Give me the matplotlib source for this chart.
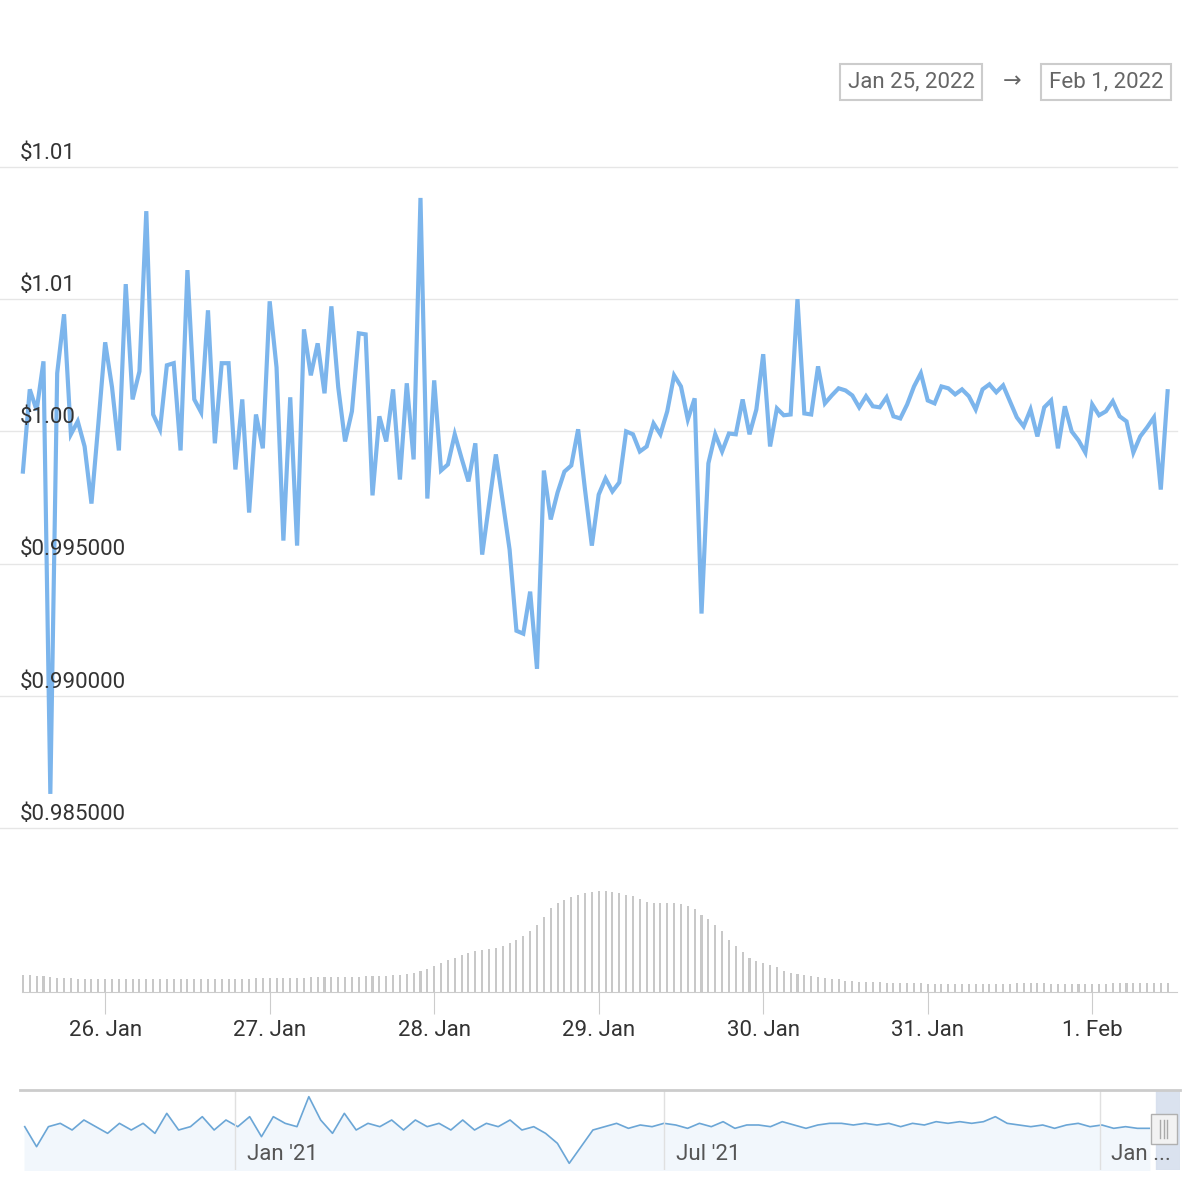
import matplotlib
matplotlib.use("Agg")
import matplotlib.pyplot as plt
from matplotlib.patches import Rectangle
import numpy as np
import pandas as pd

plt.rcParams['font.family'] = ['Roboto', 'DejaVu Sans']

# ---- data ----
start_time = "2022-01-25 12:00"
prices = [0.99848, 1.00159, 1.00080, 1.00265, 0.98629, 1.00220, 1.00443, 0.99989, 1.00038, 0.99943,
          0.99727, 1.00027, 1.00337, 1.00167, 0.99928, 1.00557, 1.00121, 1.00227, 1.00833, 1.00064,
          1.00008, 1.00250, 1.00258, 0.99928, 1.00610, 1.00121, 1.00072, 1.00458, 0.99955, 1.00258,
          1.00258, 0.99856, 1.00121, 0.99693, 1.00064, 0.99936, 1.00492, 1.00242, 0.99587, 1.00129,
          0.99568, 1.00386, 1.00212, 1.00333, 1.00144, 1.00473, 1.00167, 0.99962, 1.00076, 1.00371,
          1.00367, 0.99758, 1.00057, 0.99962, 1.00159, 0.99818, 1.00182, 0.99894, 1.00883, 0.99746,
          1.00193, 0.99852, 0.99875, 0.99989, 0.99898, 0.99811, 0.99955, 0.99534, 0.99723, 0.99913,
          0.99735, 0.99553, 0.99246, 0.99235, 0.99394, 0.99102, 0.99852, 0.99667, 0.99769, 0.99848,
          0.99871, 1.00008, 0.99780, 0.99568, 0.99761, 0.99822, 0.99773, 0.99807, 1.00000, 0.99989,
          0.99924, 0.99943, 1.00030, 0.99989, 1.00076, 1.00212, 1.00170, 1.00045, 1.00125, 0.99311,
          0.99879, 0.99989, 0.99924, 0.99992, 0.99989, 1.00121, 0.99989, 1.00083, 1.00292, 0.99943,
          1.00087, 1.00061, 1.00064, 1.00500, 1.00068, 1.00064, 1.00246, 1.00106, 1.00136, 1.00163,
          1.00155, 1.00136, 1.00091, 1.00133, 1.00095, 1.00091, 1.00129, 1.00057, 1.00049, 1.00102,
          1.00170, 1.00220, 1.00117, 1.00106, 1.00170, 1.00163, 1.00140, 1.00159, 1.00133, 1.00083,
          1.00159, 1.00178, 1.00148, 1.00174, 1.00114, 1.00053, 1.00019, 1.00083, 0.99981, 1.00091,
          1.00117, 0.99936, 1.00095, 1.00000, 0.99966, 0.99920, 1.00102, 1.00061, 1.00076, 1.00114,
          1.00057, 1.00038, 0.99920, 0.99981, 1.00015, 1.00053, 0.99780, 1.00152]

volumes = [16, 16, 15, 15, 14, 13, 13, 13, 12, 12, 12, 12, 12, 12, 12, 12, 12, 12, 12, 12,
           12, 12, 12, 12, 12, 12, 12, 12, 12, 12, 12, 12, 12, 12, 13, 13, 13, 13, 13, 13,
           13, 13, 14, 14, 14, 14, 14, 14, 14, 14, 15, 15, 15, 15, 16, 16, 17, 18, 20, 22,
           25, 28, 31, 33, 35, 37, 39, 40, 41, 42, 44, 47, 50, 54, 58, 64, 72, 80,
           85, 88, 91, 93, 95, 96, 97, 97, 96, 95, 93, 92, 89, 86, 85, 85, 85, 85, 84,
           82, 79, 74, 70, 64, 58, 50, 44, 38, 33, 30, 28, 26, 24, 20, 18, 17, 16, 15, 14,
           13, 12, 12, 11, 11, 10, 10, 10, 10, 9, 9, 9, 9, 9, 9, 8, 8, 8, 8, 8,
           8, 8, 8, 8, 8, 8, 8, 8, 9, 9, 9, 9, 9, 8, 8, 8, 8, 8, 8, 8,
           8, 8, 9, 9, 9, 9, 9, 9, 9, 9, 9]

nav_start = "2020-10-04"
nav_values = [1.0000, 0.9940, 1.0000, 1.0010, 0.9990, 1.0020, 1.0000, 0.9980, 1.0010, 0.9990,
              1.0010, 0.9980, 1.0040, 0.9990, 1.0000, 1.0030, 0.9990, 1.0020, 1.0000, 1.0030,
              0.9970, 1.0030, 1.0010, 1.0000, 1.0090, 1.0020, 0.9980, 1.0040, 0.9990, 1.0010,
              1.0000, 1.0020, 0.9990, 1.0020, 1.0000, 1.0010, 0.9990, 1.0020, 0.9990, 1.0010,
              1.0000, 1.0020, 0.9990, 1.0000, 0.9980, 0.9950, 0.9890, 0.9940, 0.9990, 1.0000,
              1.0010, 0.9995, 1.0005, 1.0000, 1.0010, 1.0005, 0.9995, 1.0010, 1.0000, 1.0015,
              0.9995, 1.0005, 1.0005, 1.0000, 1.0015, 1.0005, 0.9995, 1.0005, 1.0010, 1.0010,
              1.0005, 1.0010, 1.0005, 1.0010, 1.0000, 1.0010, 1.0005, 1.0015, 1.0010, 1.0015,
              1.0010, 1.0015, 1.0030, 1.0010, 1.0005, 1.0000, 1.0005, 0.9995, 1.0005, 1.0010,
              1.0000, 1.0005, 0.9995, 1.0000, 0.9995, 0.9995]

ytick_vals = [0.985, 0.990, 0.995, 1.000, 1.005, 1.010]
ytick_labels = ["$0.985000", "$0.990000", "$0.995000", "$1.00", "$1.01", "$1.01"]
xtick_dates = ["2022-01-26", "2022-01-27", "2022-01-28", "2022-01-29", "2022-01-30", "2022-01-31", "2022-02-01"]
xtick_labels = ["26. Jan", "27. Jan", "28. Jan", "29. Jan", "30. Jan", "31. Jan", "1. Feb"]
nav_tick_dates = ["2021-01-01", "2021-07-01", "2022-01-01"]
nav_tick_labels = ["Jan '21", "Jul '21", "Jan ..."]

times = pd.date_range(start_time, periods=len(prices), freq="h")
vol_times = pd.date_range(start_time, periods=len(volumes), freq="h")
nav_times = pd.date_range(nav_start, periods=len(nav_values), freq="5D")

W = 1200
fig = plt.figure(figsize=(12, 12), dpi=100)
line_color = "#7cb5ec"
xlim = (pd.Timestamp("2022-01-25 11:52"), pd.Timestamp("2022-02-01 12:22"))

# main price axes
ax = fig.add_axes([22 / W, 1 - 828 / W, 1155 / W, 661 / W])
ax.plot(times, prices, color=line_color, lw=3, clip_on=False, solid_joinstyle="miter")
ax.set_ylim(0.985, 1.010)
ax.set_xlim(*xlim)
for s in ax.spines.values():
    s.set_visible(False)
ax.set_yticks([])
ax.set_xticks([])
for v, lab in zip(ytick_vals, ytick_labels):
    ax.axhline(v, color="#e6e6e6", lw=1, zorder=0, xmin=-0.02, clip_on=False)
    ax.text(-0.002, v + 0.00012, lab, transform=ax.get_yaxis_transform(),
            fontsize=16, color="#333333", ha="left", va="bottom")

# volume axes
vax = fig.add_axes([22 / W, 1 - 992 / W, 1155 / W, 115 / W])
vax.bar(vol_times, volumes, width=1 / 24 * 0.3, color="#c8c8c8")
vax.set_ylim(0, 110)
vax.set_xlim(*xlim)
for s in ["top", "right", "left"]:
    vax.spines[s].set_visible(False)
vax.spines["bottom"].set_color("#cccccc")
vax.set_yticks([])
vax.set_xticks(pd.to_datetime(xtick_dates))
vax.set_xticklabels(xtick_labels, fontsize=16, color="#333333")
vax.tick_params(axis="x", length=16, color="#cccccc", pad=4)

# navigator
nax = fig.add_axes([20 / W, 1 - 1170 / W, 1160 / W, 80 / W])
nax.plot(nav_times, nav_values, color="#6ba6d6", lw=1.2)
nax.fill_between(nav_times, nav_values, 0.98, color="#f2f7fc")
nax.set_ylim(0.987, 1.011)
nax.set_xlim(pd.Timestamp("2020-10-02"), pd.Timestamp("2022-02-04"))
nax.set_yticks([])
nax.set_xticks([])
for s in ["right", "left", "bottom"]:
    nax.spines[s].set_visible(False)
nax.spines["top"].set_color("#cccccc")
nax.spines["top"].set_linewidth(2)
for d, lab in zip(nav_tick_dates, nav_tick_labels):
    dt = pd.Timestamp(d)
    nax.axvline(dt, color="#e0e0e0", lw=1)
    nax.text(dt + pd.Timedelta(days=5), 0.9885, lab, fontsize=16, color="#555555", ha="left", va="bottom")
nax.axvspan(pd.Timestamp("2022-01-25"), pd.Timestamp("2022-02-04"), color="#d6dfee", alpha=0.9, zorder=0)
nax.add_patch(Rectangle((0.975, 0.32), 0.022, 0.38, transform=nax.transAxes,
                        facecolor="#f2f2f2", edgecolor="#b0b0b0", lw=1, zorder=5))
for xo in (0.983, 0.986, 0.989):
    nax.plot([xo, xo], [0.4, 0.62], transform=nax.transAxes, color="#aaaaaa", lw=1, zorder=6)

# date range boxes
box = dict(boxstyle="square,pad=0.35", facecolor="white", edgecolor="#cccccc", lw=1.5)
fig.text(911 / W, 1 - 82 / W, "Jan 25, 2022", fontsize=16, color="#666666", ha="center", va="center", bbox=box)
fig.text(1012 / W, 1 - 82 / W, "→", fontsize=16, color="#666666", ha="center", va="center")
fig.text(1106 / W, 1 - 82 / W, "Feb 1, 2022", fontsize=16, color="#666666", ha="center", va="center", bbox=box)

fig.savefig("out.png", dpi=100, facecolor="white")
